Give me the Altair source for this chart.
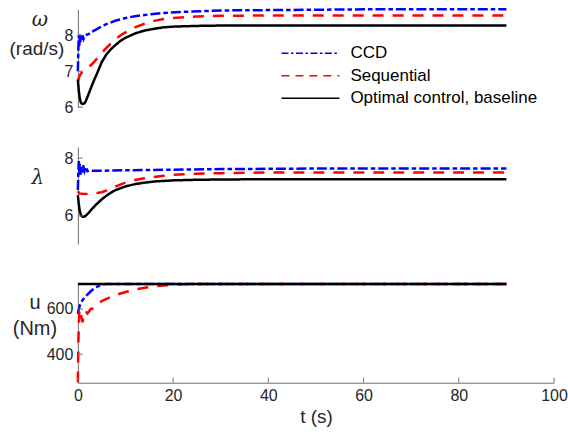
import altair as alt
import pandas as pd

SERIES = ["CCD", "Sequential", "Optimal control, baseline"]
LEGEND_ROWS = [0, 1, 2]
COLORS = ["#0000ff", "#ff0000", "#000000"]
DASHES = [[10, 3, 4.5, 3], [11, 9], [1, 0]]
LEGEND_DASHES = [[7, 2.5, 2.5, 2.5], [8, 6], [1, 0]]

# ---- omega (rad/s) ----
w_ccd_t = [0, 0.1, 0.2, 0.3, 0.4, 0.5, 0.6, 0.8, 1.0, 1.2, 1.5, 2.0, 2.5, 3, 4, 5, 6, 8, 10, 12, 15, 18, 22, 26, 30, 40, 50, 60, 70, 80, 90]
w_ccd_v = [7.0, 7.6, 8.0, 7.7, 8.05, 7.8, 8.0, 7.85, 8.0, 7.9, 8.0, 8.02, 8.05, 8.1, 8.17, 8.25, 8.31, 8.41, 8.48, 8.53, 8.58, 8.62, 8.65, 8.67, 8.69, 8.70, 8.71, 8.72, 8.72, 8.72, 8.72]
w_seq_t = [0, 0.3, 0.6, 1, 1.5, 2, 3, 4, 5, 6, 7, 8, 9, 10, 12, 14, 16, 18, 20, 25, 30, 40, 50, 60, 70, 80, 90]
w_seq_v = [6.71, 6.85, 6.93, 6.98, 7.03, 7.08, 7.2, 7.35, 7.5, 7.65, 7.78, 7.9, 8.0, 8.08, 8.22, 8.32, 8.4, 8.45, 8.48, 8.52, 8.54, 8.55, 8.55, 8.55, 8.55, 8.55, 8.55]
w_opt_t = [0, 0.2, 0.4, 0.6, 0.8, 1.0, 1.3, 1.6, 2, 2.5, 3, 3.5, 4, 5, 6, 7, 8, 9, 10, 12, 14, 16, 18, 20, 25, 30, 40, 50, 60, 70, 80, 90]
w_opt_v = [6.77, 6.45, 6.25, 6.14, 6.1, 6.09, 6.1, 6.15, 6.28, 6.45, 6.62, 6.78, 6.93, 7.25, 7.47, 7.62, 7.74, 7.85, 7.93, 8.05, 8.13, 8.18, 8.22, 8.24, 8.26, 8.27, 8.27, 8.27, 8.27, 8.27, 8.27, 8.27]

# ---- lambda ----
l_ccd_t = [0, 0.1, 0.2, 0.3, 0.4, 0.5, 0.7, 0.9, 1.1, 1.4, 1.7, 2.0, 2.5, 3, 4, 5, 7, 10, 15, 20, 30, 40, 50, 60, 70, 80, 90]
l_ccd_v = [6.9, 7.5, 7.9, 7.5, 7.8, 7.4, 7.7, 7.5, 7.75, 7.55, 7.7, 7.55, 7.58, 7.56, 7.56, 7.56, 7.57, 7.58, 7.59, 7.6, 7.62, 7.63, 7.64, 7.64, 7.64, 7.64, 7.64]
l_seq_t = [0, 0.3, 1, 2, 3, 4, 5, 6, 7, 8, 9, 10, 12, 14, 16, 18, 20, 25, 30, 40, 50, 60, 70, 80, 90]
l_seq_v = [6.86, 6.78, 6.77, 6.76, 6.77, 6.79, 6.82, 6.88, 6.95, 7.02, 7.09, 7.15, 7.24, 7.3, 7.35, 7.39, 7.42, 7.46, 7.48, 7.5, 7.5, 7.5, 7.5, 7.5, 7.5]
l_opt_t = [0, 0.2, 0.4, 0.6, 0.8, 1.0, 1.3, 1.6, 2, 2.5, 3, 4, 5, 6, 7, 8, 10, 12, 14, 16, 18, 20, 25, 30, 40, 50, 60, 70, 80, 90]
l_opt_v = [6.72, 6.4, 6.18, 6.05, 5.99, 5.97, 5.97, 6.0, 6.06, 6.15, 6.25, 6.42, 6.57, 6.7, 6.81, 6.9, 7.02, 7.1, 7.15, 7.19, 7.21, 7.23, 7.25, 7.26, 7.27, 7.27, 7.27, 7.27, 7.27, 7.27]

# ---- u (Nm) ----
u_ccd_t = [0, 0.2, 0.5, 1, 1.5, 2, 3, 4, 5, 6, 90]
u_ccd_v = [578, 600, 620, 640, 652, 664, 684, 698, 707, 711, 711]
u_seq_t = [0, 0.1, 0.3, 0.5, 0.8, 1.0, 1.3, 1.6, 2.0, 2.3, 2.7, 3.2, 4, 5, 6, 7, 8, 10, 12, 14, 16, 18, 20, 22, 25, 30, 90]
u_seq_v = [275, 450, 585, 600, 560, 541, 575, 592, 580, 588, 600, 602, 618, 635, 645, 654, 662, 675, 686, 694, 700, 704, 707, 709, 711, 711, 711]
u_opt_t = [0, 90]
u_opt_v = [711, 711]

X_TICKS = [0, 20, 40, 60, 80, 100]
W_TICKS = [6, 7, 8]
L_TICKS = [6, 8]
U_TICKS = [400, 600]

FONT = "Liberation Sans"
AXIS_COLOR = "#6e6e6e"
TEXT_COLOR = "#262626"
W = 477


def frame(parts):
    rows = []
    for name, ts, vs in parts:
        for t, v in zip(ts, vs):
            rows.append({"t": t, "v": v, "series": name})
    return pd.DataFrame(rows)


color_scale = alt.Scale(domain=SERIES, range=COLORS)
dash_scale = alt.Scale(domain=SERIES, range=DASHES)


def panel(df, ydom, yticks, height, labels, xaxis=None):
    yscale = alt.Scale(domain=ydom, nice=False, zero=False)
    x_enc = alt.X("t:Q", scale=alt.Scale(domain=[0, 100], nice=False, zero=False),
                  axis=xaxis)
    y_enc = alt.Y("v:Q", scale=yscale,
                  axis=alt.Axis(title=None, values=yticks, tickSize=0, labelPadding=5,
                                labelFont=FONT, labelFontSize=16, labelColor=TEXT_COLOR,
                                domainColor=AXIS_COLOR, grid=False))
    lines = alt.Chart(df).mark_line(strokeWidth=2.5, strokeCap="butt").encode(
        x=x_enc, y=y_enc,
        color=alt.Color("series:N", scale=color_scale, legend=None),
        strokeDash=alt.StrokeDash("series:N", scale=dash_scale, legend=None),
    )
    ticks = alt.Chart(pd.DataFrame({"v": yticks})).mark_rule(color=AXIS_COLOR, strokeWidth=1).encode(
        y=alt.Y("v:Q", scale=yscale), x=alt.value(0), x2=alt.value(5))
    layers = [lines, ticks]
    for text, xv, yv, fnt, style, fs in labels:
        layers.append(alt.Chart(pd.DataFrame({"label": [text]})).mark_text(
            font=fnt, fontSize=fs, fontStyle=style, align="center", baseline="alphabetic",
            color=TEXT_COLOR).encode(text="label:N", x=alt.value(xv), y=alt.value(yv)))
    return alt.layer(*layers)


df_w = frame([(SERIES[0], w_ccd_t, w_ccd_v), (SERIES[1], w_seq_t, w_seq_v), (SERIES[2], w_opt_t, w_opt_v)])
df_l = frame([(SERIES[0], l_ccd_t, l_ccd_v), (SERIES[1], l_seq_t, l_seq_v), (SERIES[2], l_opt_t, l_opt_v)])
df_u = frame([(SERIES[0], u_ccd_t, u_ccd_v), (SERIES[1], u_seq_t, u_seq_v), (SERIES[2], u_opt_t, u_opt_v)])

# manual legend (own row scale)
leg_df = pd.DataFrame({"series": SERIES, "row": LEGEND_ROWS})
row_scale = alt.Scale(domain=[0, 2], range=[44, 89], nice=False, zero=False)
leg_rule = alt.Chart(leg_df).mark_rule(strokeWidth=1.5, strokeCap="butt").encode(
    y=alt.Y("row:Q", scale=row_scale, axis=None),
    x=alt.value(204), x2=alt.value(262),
    color=alt.Color("series:N", scale=color_scale, legend=None),
    strokeDash=alt.StrokeDash("series:N", scale=alt.Scale(domain=SERIES, range=LEGEND_DASHES), legend=None),
)
leg_text = alt.Chart(leg_df).mark_text(font=FONT, fontSize=17, align="left", baseline="middle",
                                       color="#000000").encode(
    y=alt.Y("row:Q", scale=row_scale, axis=None),
    x=alt.value(273), text="series:N")
legend_layer = alt.layer(leg_rule, leg_text)

top_main = panel(df_w, [6, 8.72], W_TICKS, 98,
                 [("ω", -38, 17, "DejaVu Serif", "italic", 20),
                  ("(rad/s)", -41, 46, FONT, "normal", 19)])
top = alt.layer(top_main, legend_layer).resolve_scale(y="independent", strokeDash="independent").properties(width=W, height=98)
mid = panel(df_l, [5.03, 8.38], L_TICKS, 97,
            [("λ", -40, 37, "DejaVu Serif", "italic", 20)]).properties(width=W, height=97)
bot = panel(df_u, [274, 711], U_TICKS, 99,
            [("u", -43, 25, FONT, "normal", 20), ("(Nm)", -43, 51, FONT, "normal", 20)],
            xaxis=alt.Axis(values=X_TICKS, tickSize=0, labelPadding=5, labelFlush=False,
                           title="t (s)",
                           titleFont=FONT, titleFontSize=19, titleFontWeight="normal",
                           titleColor=TEXT_COLOR, titlePadding=4,
                           labelFont=FONT, labelFontSize=16, labelColor=TEXT_COLOR,
                           domainColor=AXIS_COLOR, grid=False))
xt = alt.Chart(pd.DataFrame({"t": X_TICKS})).mark_rule(color=AXIS_COLOR, strokeWidth=1).encode(
    x=alt.X("t:Q", scale=alt.Scale(domain=[0, 100], nice=False)), y=alt.value(99), y2=alt.value(94))
bot = alt.layer(bot, xt).properties(width=W, height=99)

chart = alt.vconcat(top, mid, bot, spacing=40, bounds="flush").properties(
    padding={"left": 9, "top": 4, "right": 0, "bottom": 7},
    background="white",
).resolve_scale(strokeDash="independent").configure_view(stroke=None)

chart.save("out.html", embed_options={"renderer": "svg", "actions": False})
